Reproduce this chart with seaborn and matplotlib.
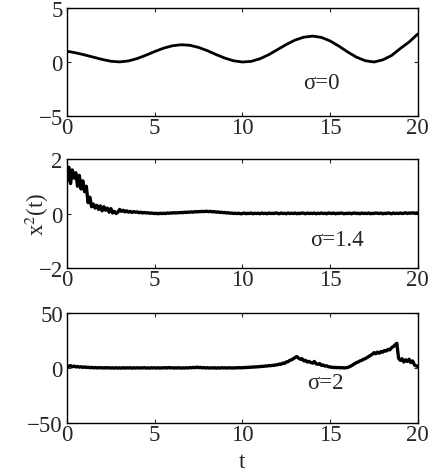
import numpy as np
import pandas as pd
import matplotlib
matplotlib.use("Agg")
import matplotlib.pyplot as plt
import seaborn as sns

### DATA ###

# sigma = 0, smooth curve, sampled every 0.5
t_smooth = [i * 0.5 for i in range(41)]
x2_s0 = [1.00, 0.85, 0.66, 0.45, 0.24, 0.07, 0.01, 0.10, 0.32, 0.63,
         0.97, 1.28, 1.50, 1.60, 1.55, 1.35, 1.05, 0.69, 0.36, 0.11,
         0.00, 0.06, 0.30, 0.68, 1.15, 1.62, 2.03, 2.30, 2.40, 2.28,
         1.95, 1.47, 0.93, 0.45, 0.12, 0.00, 0.20, 0.60, 1.25, 1.85,
         2.60]

# sigma = 1.4 and sigma = 2, noisy curves, sampled every 0.1
t_noisy = [i * 0.1 for i in range(201)]
x2_s14 = [1.20, 1.70, 1.10, 1.60, 1.30, 1.50, 1.00, 1.40, 0.90, 1.20,
          0.80, 1.00, 0.40, 0.60, 0.25, 0.35, 0.20, 0.30, 0.15, 0.28,
          0.10, 0.25, 0.12, 0.20, 0.05, 0.18, 0.02, 0.08, 0.00, 0.05,
          0.15, 0.08, 0.12, 0.06, 0.10, 0.05, 0.08, 0.04, 0.07, 0.05,
          0.06, 0.03, 0.05, 0.02, 0.04, 0.02, 0.03, 0.01, 0.02, 0.01,
          0.00, 0.01, -0.01, 0.01, 0.00, 0.01, 0.00, 0.02, 0.01, 0.02,
          0.02, 0.03, 0.02, 0.03, 0.03, 0.04, 0.03, 0.05, 0.04, 0.05,
          0.05, 0.06, 0.05, 0.07, 0.06, 0.07, 0.07, 0.08, 0.07, 0.08,
          0.08, 0.07, 0.08, 0.06, 0.07, 0.05, 0.06, 0.04, 0.05, 0.03,
          0.04, 0.02, 0.03, 0.01, 0.02, 0.00, 0.01, 0.00, 0.01, -0.01,
          0.00, 0.02, -0.01, 0.01, 0.00, 0.02, -0.01, 0.01, 0.00, 0.01,
          -0.01, 0.02, 0.00, 0.01, -0.01, 0.02, 0.00, 0.01, 0.00, 0.02,
          0.01, -0.01, 0.02, 0.00, 0.01, -0.01, 0.02, 0.00, 0.01, 0.00,
          0.02, -0.01, 0.01, 0.00, 0.02, 0.01, -0.01, 0.02, 0.00, 0.01,
          0.00, 0.02, -0.01, 0.01, 0.00, 0.02, 0.00, 0.01, -0.01, 0.02,
          0.01, 0.00, 0.02, -0.01, 0.01, 0.00, 0.02, 0.01, -0.01, 0.01,
          0.00, 0.02, -0.01, 0.01, 0.02, 0.00, 0.01, -0.01, 0.02, 0.00,
          0.01, 0.00, 0.02, -0.01, 0.01, 0.00, 0.02, 0.01, 0.00, 0.02,
          -0.01, 0.01, 0.00, 0.02, 0.01, -0.01, 0.02, 0.00, 0.01, 0.00,
          0.02, 0.00, 0.01, 0.03, 0.00, 0.02, 0.01, 0.03, 0.01, 0.02,
          0.02]
x2_s2 = [2.0, 1.5, 2.2, 1.2, 1.8, 1.0, 1.4, 0.8, 1.2, 0.6,
         1.0, 0.5, 0.8, 0.3, 0.6, 0.2, 0.5, 0.1, 0.4, 0.2,
         0.3, 0.0, 0.4, 0.1, 0.3, 0.0, 0.2, -0.1, 0.3, 0.0,
         0.2, -0.1, 0.3, 0.0, 0.2, 0.1, 0.3, -0.1, 0.2, 0.0,
         0.3, 0.0, 0.2, 0.1, 0.4, 0.0, 0.2, -0.1, 0.3, 0.1,
         0.2, 0.0, 0.3, -0.1, 0.2, 0.1, 0.4, 0.0, 0.5, 0.1,
         0.3, 0.0, 0.2, 0.1, 0.3, -0.1, 0.2, 0.0, 0.3, 0.1,
         0.4, 0.2, 0.6, 0.3, 0.8, 0.4, 0.6, 0.2, 0.4, 0.1,
         0.3, 0.0, 0.2, 0.1, 0.3, -0.1, 0.2, 0.0, 0.3, 0.1,
         0.2, 0.0, 0.3, 0.1, 0.2, 0.0, 0.3, 0.1, 0.4, 0.2,
         0.3, 0.5, 0.4, 0.7, 0.6, 0.9, 0.8, 1.1, 1.0, 1.3,
         1.3, 1.6, 1.5, 1.9, 1.8, 2.2, 2.1, 2.5, 2.4, 2.9,
         3.0, 3.6, 3.4, 4.5, 4.2, 5.5, 5.8, 7.0, 7.5, 8.5,
         9.5, 10.5, 9.0, 8.0, 8.5, 6.5, 7.0, 5.5, 6.0, 5.0,
         4.5, 6.0, 3.8, 3.5, 4.0, 2.5, 2.8, 1.8, 2.0, 1.2,
         1.0, 0.8, 0.5, 0.6, 0.3, 0.5, 0.2, 0.4, 0.1, 0.3,
         0.5, 1.2, 2.0, 3.0, 4.0, 5.0, 5.5, 6.5, 7.0, 8.0,
         8.5, 9.5, 10.5, 11.5, 12.5, 14.0, 13.0, 14.5, 13.5, 15.0,
         14.5, 16.0, 15.5, 17.0, 16.5, 18.5, 19.5, 21.0, 22.5, 9.0,
         7.0, 8.5, 5.5, 7.5, 6.0, 8.0, 5.0, 6.5, 3.0, 2.0,
         1.5]

panels = [
    (t_smooth, x2_s0, [-5, 0, 5], "\u03c3=0", (14.5, -1.9)),
    (t_noisy, x2_s14, [-2, 0, 2], "\u03c3=1.4", (15.4, -0.94)),
    (t_noisy, x2_s2, [-50, 0, 50], "\u03c3=2", (14.7, -12.7)),
]
xticks = [0, 5, 10, 15, 20]

### PLOT ###

sns.set_style("ticks")
plt.rcParams['font.family'] = ['Liberation Serif', 'DejaVu Serif']
plt.rcParams['mathtext.fontset'] = 'stix'

fig = plt.figure(figsize=(4.38, 4.77), dpi=100)
# top panel starts a little lower so the "5" label is not clipped
boxes = [[0.153, 0.7547, 0.801, 0.2264],
         [0.153, 0.436, 0.801, 0.2285],
         [0.153, 0.111, 0.801, 0.2306]]

axes = []
for box, (t, vals, yticks, label, pos) in zip(boxes, panels):
    ax = fig.add_axes(box)
    df = pd.DataFrame({'t': t, 'x2': vals})
    lw = 2.0 if len(t) < 100 else 2.4
    sns.lineplot(data=df, x='t', y='x2', color='black', linewidth=lw, ax=ax)
    ax.set_xlim(0, 20)
    ax.set_ylim(yticks[0], yticks[-1])
    ax.set_xticks(xticks)
    ax.set_yticks(yticks)
    ax.set_xlabel('')
    ax.set_ylabel('')
    ax.tick_params(direction='in', top=True, right=True, labelsize=16.5,
                   length=3, width=0.8)
    ax.tick_params(axis='x', pad=1)
    ax.tick_params(axis='y', pad=3)
    for s in ax.spines.values():
        s.set_linewidth(1.0)
        s.set_color('black')
    ax.text(pos[0], pos[1], label, fontsize=16.5, ha='center', va='center')
    axes.append(ax)

axes[1].set_ylabel('x$^2$(t)', fontsize=16.5, va='center')
axes[1].yaxis.set_label_coords(-0.085, 0.5)
axes[2].set_xlabel('t', fontsize=16.5, labelpad=4)

plt.savefig('out.png', dpi=100)
